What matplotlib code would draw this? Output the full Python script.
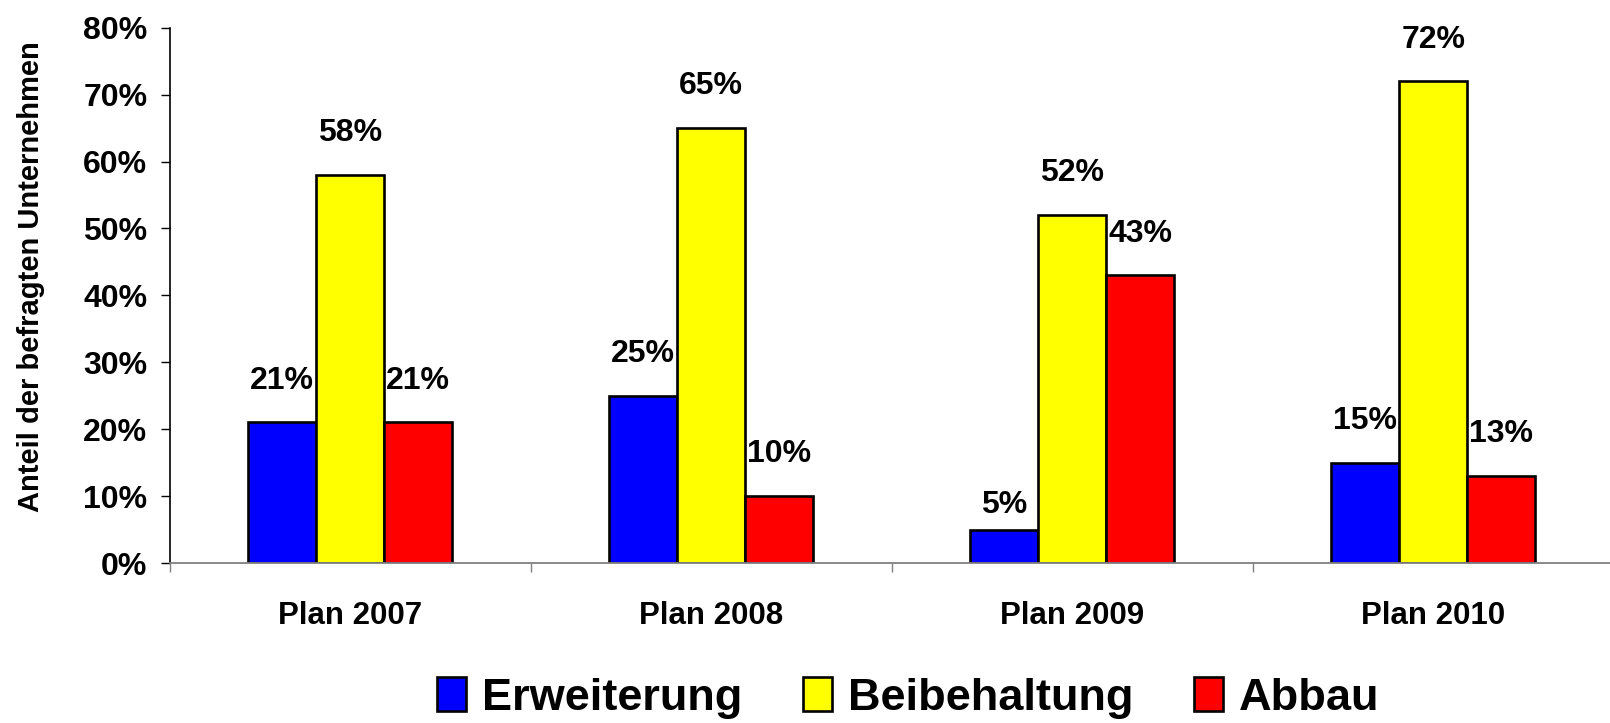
import numpy as np
import matplotlib.pyplot as plt

plt.rcParams['font.family'] = ['Liberation Sans', 'DejaVu Sans']
plt.rcParams['font.weight'] = 'bold'

categories = ['Plan 2007', 'Plan 2008', 'Plan 2009', 'Plan 2010']
series = ['Erweiterung', 'Beibehaltung', 'Abbau']
erweiterung = [21, 25, 5, 15]
beibehaltung = [58, 65, 52, 72]
abbau = [21, 10, 43, 13]
colors = ['#0000ff', '#ffff00', '#ff0000']

fig = plt.figure(figsize=(16.1, 7.23), dpi=100)
ax = fig.add_axes([0.1053, 0.2213, 0.897, 0.7404])

x = np.arange(len(categories))
w = 0.188
for i, (vals, col, name) in enumerate(zip([erweiterung, beibehaltung, abbau], colors, series)):
    bars = ax.bar(x + (i - 1) * w, vals, w, color=col, edgecolor='black', linewidth=1.9, label=name)
    for b, v in zip(bars, vals):
        off = 18 if v < 8 else 30
        ax.annotate(f'{v}%', (b.get_x() + b.get_width() / 2, v), xytext=(0, off),
                    textcoords='offset points', ha='center', va='center',
                    fontsize=23, fontweight='bold')

ax.set_xlim(-0.5, 3.5)
ax.set_ylim(0, 80)
ax.set_yticks(np.arange(0, 81, 10))
ax.set_yticklabels([f'{t}%' for t in range(0, 81, 10)], fontsize=23, fontweight='bold')
ax.tick_params(axis='y', length=6.5, width=1, pad=9.5, direction='out')

ax.set_xticks(x)
ax.set_xticklabels(categories, fontsize=22.5, fontweight='bold')
ax.set_xticks([-0.5, 0.5, 1.5, 2.5, 3.5], minor=True)
ax.tick_params(axis='x', which='major', length=0, pad=27)
ax.tick_params(axis='x', which='minor', length=6.5, width=1, color='#808080', direction='out')

for s in ['top', 'right']:
    ax.spines[s].set_visible(False)
ax.spines['bottom'].set_color('#808080')
ax.spines['bottom'].set_linewidth(1.3)
ax.spines['left'].set_linewidth(1.2)

fig.text(0.019, 0.618, 'Anteil der befragten Unternehmen', rotation=90, ha='center', va='center',
         fontsize=21, fontweight='bold')

fig.legend(loc='center', bbox_to_anchor=(0.564, 0.035), ncol=3, frameon=False,
           prop={'size': 32.5, 'weight': 'bold'}, handlelength=0.65, handleheight=0.8,
           handletextpad=0.34, columnspacing=1.35)

plt.savefig('out.png', dpi=100)
